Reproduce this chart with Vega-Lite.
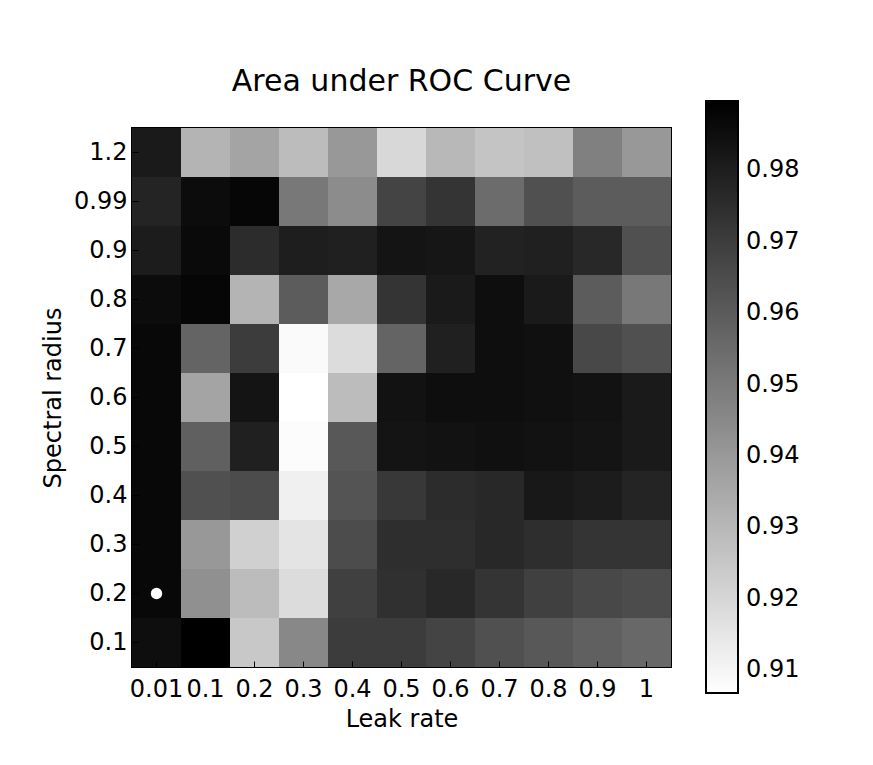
{
  "$schema": "https://vega.github.io/schema/vega-lite/v6.json",
  "autosize": "none",
  "padding": {"left": 132, "top": 128, "right": 202, "bottom": 98},
  "width": 539,
  "height": 539,
  "background": "white",
  "config": {
    "font": "DejaVu Sans",
    "view": {"stroke": "black", "strokeWidth": 2},
    "axis": {"labelFont": "DejaVu Sans", "titleFont": "DejaVu Sans", "labelColor": "black", "titleColor": "black", "tickColor": "black", "labelFontSize": 24, "titleFontSize": 24, "titleFontWeight": "normal", "grid": false, "domain": false}
  },
  "title": {"text": "Area under ROC Curve", "fontSize": 30, "fontWeight": "normal", "font": "DejaVu Sans", "color": "black", "offset": 4, "anchor": "middle"},
  "datasets": {
    "grid": [
      {"sr":"1.2","lr":"0.01","auc":0.9812},{"sr":"1.2","lr":"0.1","auc":0.9312},{"sr":"1.2","lr":"0.2","auc":0.9364},{"sr":"1.2","lr":"0.3","auc":0.9286},{"sr":"1.2","lr":"0.4","auc":0.9403},{"sr":"1.2","lr":"0.5","auc":0.9195},{"sr":"1.2","lr":"0.6","auc":0.9299},{"sr":"1.2","lr":"0.7","auc":0.9260},{"sr":"1.2","lr":"0.8","auc":0.9273},{"sr":"1.2","lr":"0.9","auc":0.9481},{"sr":"1.2","lr":"1","auc":0.9403},
      {"sr":"0.99","lr":"0.01","auc":0.9780},{"sr":"0.99","lr":"0.1","auc":0.9858},{"sr":"0.99","lr":"0.2","auc":0.9877},{"sr":"0.99","lr":"0.3","auc":0.9507},{"sr":"0.99","lr":"0.4","auc":0.9442},{"sr":"0.99","lr":"0.5","auc":0.9676},{"sr":"0.99","lr":"0.6","auc":0.9728},{"sr":"0.99","lr":"0.7","auc":0.9546},{"sr":"0.99","lr":"0.8","auc":0.9637},{"sr":"0.99","lr":"0.9","auc":0.9598},{"sr":"0.99","lr":"1","auc":0.9598},
      {"sr":"0.9","lr":"0.01","auc":0.9806},{"sr":"0.9","lr":"0.1","auc":0.9864},{"sr":"0.9","lr":"0.2","auc":0.9754},{"sr":"0.9","lr":"0.3","auc":0.9799},{"sr":"0.9","lr":"0.4","auc":0.9793},{"sr":"0.9","lr":"0.5","auc":0.9832},{"sr":"0.9","lr":"0.6","auc":0.9825},{"sr":"0.9","lr":"0.7","auc":0.9786},{"sr":"0.9","lr":"0.8","auc":0.9793},{"sr":"0.9","lr":"0.9","auc":0.9767},{"sr":"0.9","lr":"1","auc":0.9637},
      {"sr":"0.8","lr":"0.01","auc":0.9858},{"sr":"0.8","lr":"0.1","auc":0.9877},{"sr":"0.8","lr":"0.2","auc":0.9312},{"sr":"0.8","lr":"0.3","auc":0.9598},{"sr":"0.8","lr":"0.4","auc":0.9351},{"sr":"0.8","lr":"0.5","auc":0.9728},{"sr":"0.8","lr":"0.6","auc":0.9812},{"sr":"0.8","lr":"0.7","auc":0.9851},{"sr":"0.8","lr":"0.8","auc":0.9812},{"sr":"0.8","lr":"0.9","auc":0.9598},{"sr":"0.8","lr":"1","auc":0.9507},
      {"sr":"0.7","lr":"0.01","auc":0.9871},{"sr":"0.7","lr":"0.1","auc":0.9572},{"sr":"0.7","lr":"0.2","auc":0.9702},{"sr":"0.7","lr":"0.3","auc":0.9084},{"sr":"0.7","lr":"0.4","auc":0.9182},{"sr":"0.7","lr":"0.5","auc":0.9572},{"sr":"0.7","lr":"0.6","auc":0.9793},{"sr":"0.7","lr":"0.7","auc":0.9851},{"sr":"0.7","lr":"0.8","auc":0.9845},{"sr":"0.7","lr":"0.9","auc":0.9663},{"sr":"0.7","lr":"1","auc":0.9637},
      {"sr":"0.6","lr":"0.01","auc":0.9871},{"sr":"0.6","lr":"0.1","auc":0.9364},{"sr":"0.6","lr":"0.2","auc":0.9832},{"sr":"0.6","lr":"0.3","auc":0.9068},{"sr":"0.6","lr":"0.4","auc":0.9286},{"sr":"0.6","lr":"0.5","auc":0.9838},{"sr":"0.6","lr":"0.6","auc":0.9851},{"sr":"0.6","lr":"0.7","auc":0.9851},{"sr":"0.6","lr":"0.8","auc":0.9845},{"sr":"0.6","lr":"0.9","auc":0.9838},{"sr":"0.6","lr":"1","auc":0.9812},
      {"sr":"0.5","lr":"0.01","auc":0.9871},{"sr":"0.5","lr":"0.1","auc":0.9585},{"sr":"0.5","lr":"0.2","auc":0.9793},{"sr":"0.5","lr":"0.3","auc":0.9078},{"sr":"0.5","lr":"0.4","auc":0.9611},{"sr":"0.5","lr":"0.5","auc":0.9832},{"sr":"0.5","lr":"0.6","auc":0.9838},{"sr":"0.5","lr":"0.7","auc":0.9845},{"sr":"0.5","lr":"0.8","auc":0.9838},{"sr":"0.5","lr":"0.9","auc":0.9832},{"sr":"0.5","lr":"1","auc":0.9812},
      {"sr":"0.4","lr":"0.01","auc":0.9871},{"sr":"0.4","lr":"0.1","auc":0.9637},{"sr":"0.4","lr":"0.2","auc":0.9650},{"sr":"0.4","lr":"0.3","auc":0.9117},{"sr":"0.4","lr":"0.4","auc":0.9624},{"sr":"0.4","lr":"0.5","auc":0.9715},{"sr":"0.4","lr":"0.6","auc":0.9754},{"sr":"0.4","lr":"0.7","auc":0.9767},{"sr":"0.4","lr":"0.8","auc":0.9819},{"sr":"0.4","lr":"0.9","auc":0.9806},{"sr":"0.4","lr":"1","auc":0.9780},
      {"sr":"0.3","lr":"0.01","auc":0.9871},{"sr":"0.3","lr":"0.1","auc":0.9403},{"sr":"0.3","lr":"0.2","auc":0.9221},{"sr":"0.3","lr":"0.3","auc":0.9156},{"sr":"0.3","lr":"0.4","auc":0.9650},{"sr":"0.3","lr":"0.5","auc":0.9747},{"sr":"0.3","lr":"0.6","auc":0.9747},{"sr":"0.3","lr":"0.7","auc":0.9767},{"sr":"0.3","lr":"0.8","auc":0.9747},{"sr":"0.3","lr":"0.9","auc":0.9728},{"sr":"0.3","lr":"1","auc":0.9728},
      {"sr":"0.2","lr":"0.01","auc":0.9871},{"sr":"0.2","lr":"0.1","auc":0.9429},{"sr":"0.2","lr":"0.2","auc":0.9286},{"sr":"0.2","lr":"0.3","auc":0.9182},{"sr":"0.2","lr":"0.4","auc":0.9689},{"sr":"0.2","lr":"0.5","auc":0.9741},{"sr":"0.2","lr":"0.6","auc":0.9767},{"sr":"0.2","lr":"0.7","auc":0.9728},{"sr":"0.2","lr":"0.8","auc":0.9689},{"sr":"0.2","lr":"0.9","auc":0.9663},{"sr":"0.2","lr":"1","auc":0.9650},
      {"sr":"0.1","lr":"0.01","auc":0.9851},{"sr":"0.1","lr":"0.1","auc":0.9897},{"sr":"0.1","lr":"0.2","auc":0.9247},{"sr":"0.1","lr":"0.3","auc":0.9455},{"sr":"0.1","lr":"0.4","auc":0.9702},{"sr":"0.1","lr":"0.5","auc":0.9702},{"sr":"0.1","lr":"0.6","auc":0.9676},{"sr":"0.1","lr":"0.7","auc":0.9637},{"sr":"0.1","lr":"0.8","auc":0.9611},{"sr":"0.1","lr":"0.9","auc":0.9585},{"sr":"0.1","lr":"1","auc":0.9559}
    ],
    "best": [{"sr":"0.2","lr":"0.01"}]
  },
  "layer": [
    {
      "data": {"name": "grid"},
      "mark": {"type": "rect"},
      "encoding": {
        "x": {"field": "lr", "type": "nominal", "sort": ["0.01","0.1","0.2","0.3","0.4","0.5","0.6","0.7","0.8","0.9","1"], "scale": {"paddingInner": 0, "paddingOuter": 0},
          "axis": {"orient": "bottom", "title": "Leak rate", "labelAngle": 0, "tickSize": -6, "ticks": true, "labelPadding": 16, "titlePadding": 6}},
        "y": {"field": "sr", "type": "nominal", "sort": ["1.2","0.99","0.9","0.8","0.7","0.6","0.5","0.4","0.3","0.2","0.1"], "scale": {"paddingInner": 0, "paddingOuter": 0},
          "axis": {"orient": "left", "title": "Spectral radius", "tickSize": -6, "ticks": true, "labelPadding": 11, "titlePadding": 8}},
        "color": {"field": "auc", "type": "quantitative",
          "scale": {"domain": [0.9068, 0.9897], "range": ["#ffffff", "#000000"], "interpolate": "rgb"},
          "legend": {"type": "gradient", "orient": "none", "legendX": 574, "legendY": -27, "direction": "vertical", "title": null,
            "gradientLength": 592, "gradientThickness": 32, "gradientStrokeColor": "black", "gradientStrokeWidth": 2,
            "values": [0.91, 0.92, 0.93, 0.94, 0.95, 0.96, 0.97, 0.98], "labelOverlap": false, "labelFontSize": 24, "labelFont": "DejaVu Sans", "labelColor": "black", "labelOffset": 8, "format": ".2f"}}
      }
    },
    {
      "data": {"name": "best"},
      "mark": {"type": "point", "filled": true, "color": "white", "opacity": 1, "size": 130, "shape": "circle"},
      "encoding": {
        "x": {"field": "lr", "type": "nominal", "sort": ["0.01","0.1","0.2","0.3","0.4","0.5","0.6","0.7","0.8","0.9","1"],
          "axis": {"orient": "top", "title": null, "labels": false, "tickSize": -6, "ticks": true}},
        "y": {"field": "sr", "type": "nominal", "sort": ["1.2","0.99","0.9","0.8","0.7","0.6","0.5","0.4","0.3","0.2","0.1"],
          "axis": {"orient": "right", "title": null, "labels": false, "tickSize": -6, "ticks": true}}
      }
    }
  ],
  "resolve": {"axis": {"x": "independent", "y": "independent"}}
}
